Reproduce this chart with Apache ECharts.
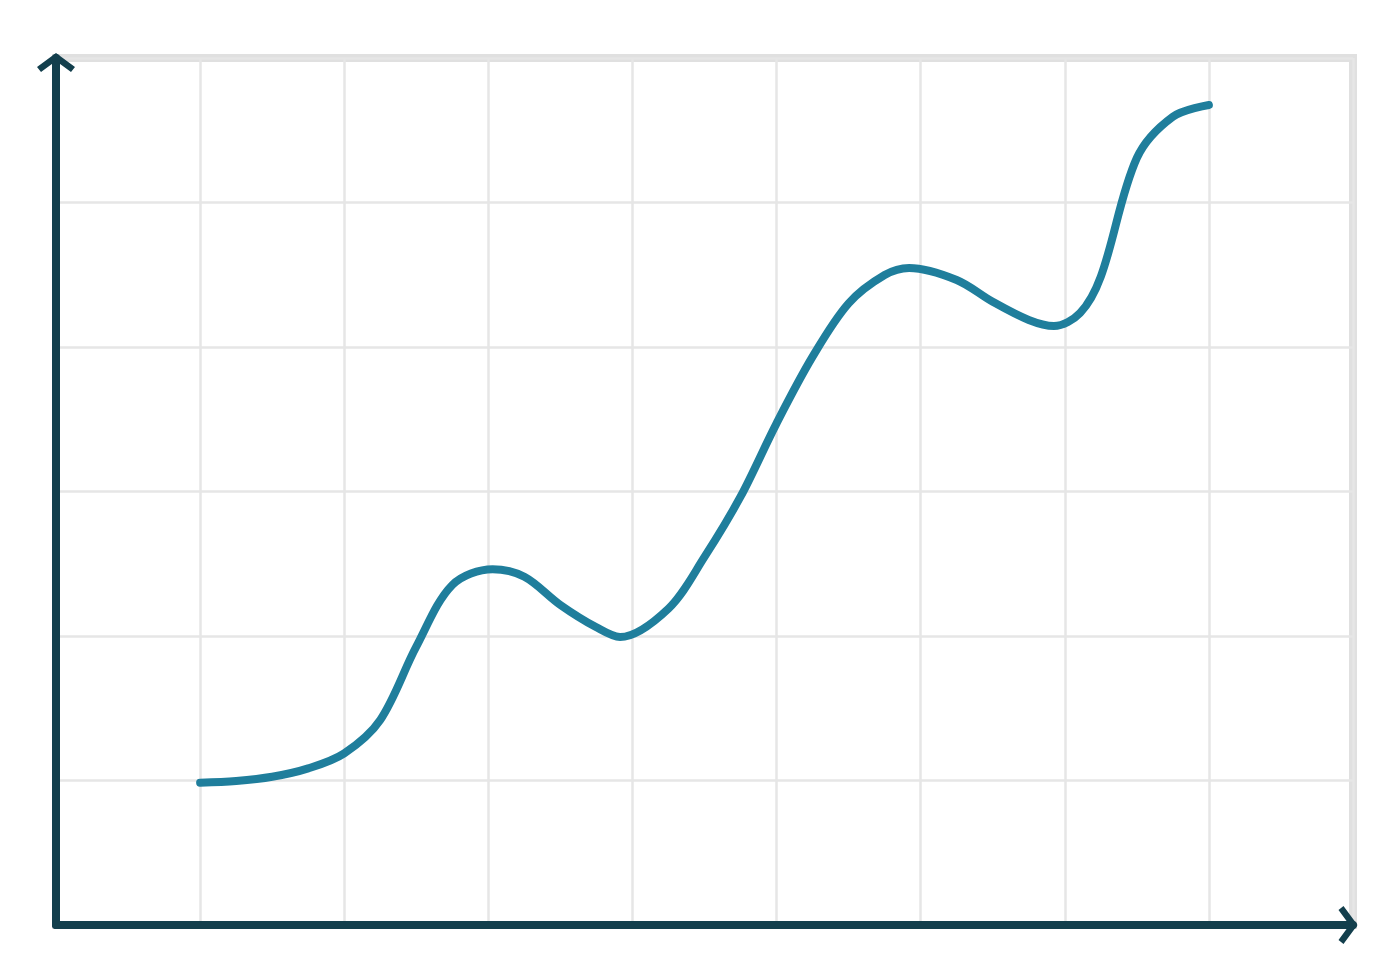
<!DOCTYPE html>
<html>
<head>
<meta charset="utf-8">
<script src="https://cdn.jsdelivr.net/npm/echarts@6/dist/echarts.min.js"></script>
<style>
  html, body { margin: 0; padding: 0; background: #ffffff; }
  #chart { width: 1400px; height: 980px; }
</style>
</head>
<body>
<div id="chart"></div>
<script>
// Curve samples (about every quarter of a grid column, plus the turning points)
const xValues = [1.0, 1.25, 1.5, 1.75, 2.0, 2.25, 2.5, 2.75, 3.03, 3.25, 3.5, 3.75, 3.914,
  4.25, 4.5, 4.75, 5.0, 5.25, 5.5, 5.75, 5.92, 6.25, 6.5, 6.75, 6.925, 7.106, 7.25, 7.5, 7.75, 8.0];
const yValues = [0.985, 0.997, 1.026, 1.084, 1.188, 1.419, 1.926, 2.353, 2.462, 2.410, 2.215, 2.060, 1.993,
  2.19, 2.547, 2.964, 3.472, 3.933, 4.302, 4.498, 4.547, 4.464, 4.313, 4.187, 4.145, 4.235, 4.487, 5.308, 5.594, 5.675];
const xTicks = [0, 1, 2, 3, 4, 5, 6, 7, 8, 9];
const yTicks = [0, 1, 2, 3, 4, 5, 6];

const seriesData = xValues.map((x, i) => [x, yValues[i]]);

const AXIS_COLOR = '#133f4d';
const LINE_COLOR = '#1f7e9c';
const GRID_COLOR = '#e6e6e6';
const chevron = 'path://M19,0 L38,14 L34,19 L19,8 L4,19 L0,14 Z';

const chart = echarts.init(document.getElementById('chart'), null, { renderer: 'canvas' });
chart.setOption({
  backgroundColor: '#ffffff',
  animation: false,
  grid: {
    left: 56, right: 47, top: 58, bottom: 55,
    show: true,
    borderColor: '#e0e0e0',
    borderWidth: 8,
    backgroundColor: 'transparent'
  },
  xAxis: {
    type: 'value',
    min: xTicks[0],
    max: xTicks[xTicks.length - 1],
    interval: 1,
    axisLabel: { show: false },
    axisTick: { show: false },
    axisLine: {
      show: true,
      lineStyle: { color: AXIS_COLOR, width: 8, cap: 'round' },
      symbol: ['none', chevron],
      symbolSize: [38, 19],
      symbolOffset: [0, -5]
    },
    splitLine: { show: true, lineStyle: { color: GRID_COLOR, width: 2.5 } }
  },
  yAxis: {
    type: 'value',
    min: yTicks[0],
    max: yTicks[yTicks.length - 1],
    interval: 1,
    axisLabel: { show: false },
    axisTick: { show: false },
    axisLine: {
      show: true,
      onZero: false,
      lineStyle: { color: AXIS_COLOR, width: 8, cap: 'round' },
      symbol: ['none', chevron],
      symbolSize: [38, 19],
      symbolOffset: [0, -4.5]
    },
    splitLine: { show: true, lineStyle: { color: GRID_COLOR, width: 2.5 } }
  },
  series: [{
    type: 'line',
    data: seriesData,
    smooth: 0.33,
    symbol: 'none',
    lineStyle: { color: LINE_COLOR, width: 8, cap: 'round', join: 'round' },
    z: 3
  }]
});
</script>
</body>
</html>
